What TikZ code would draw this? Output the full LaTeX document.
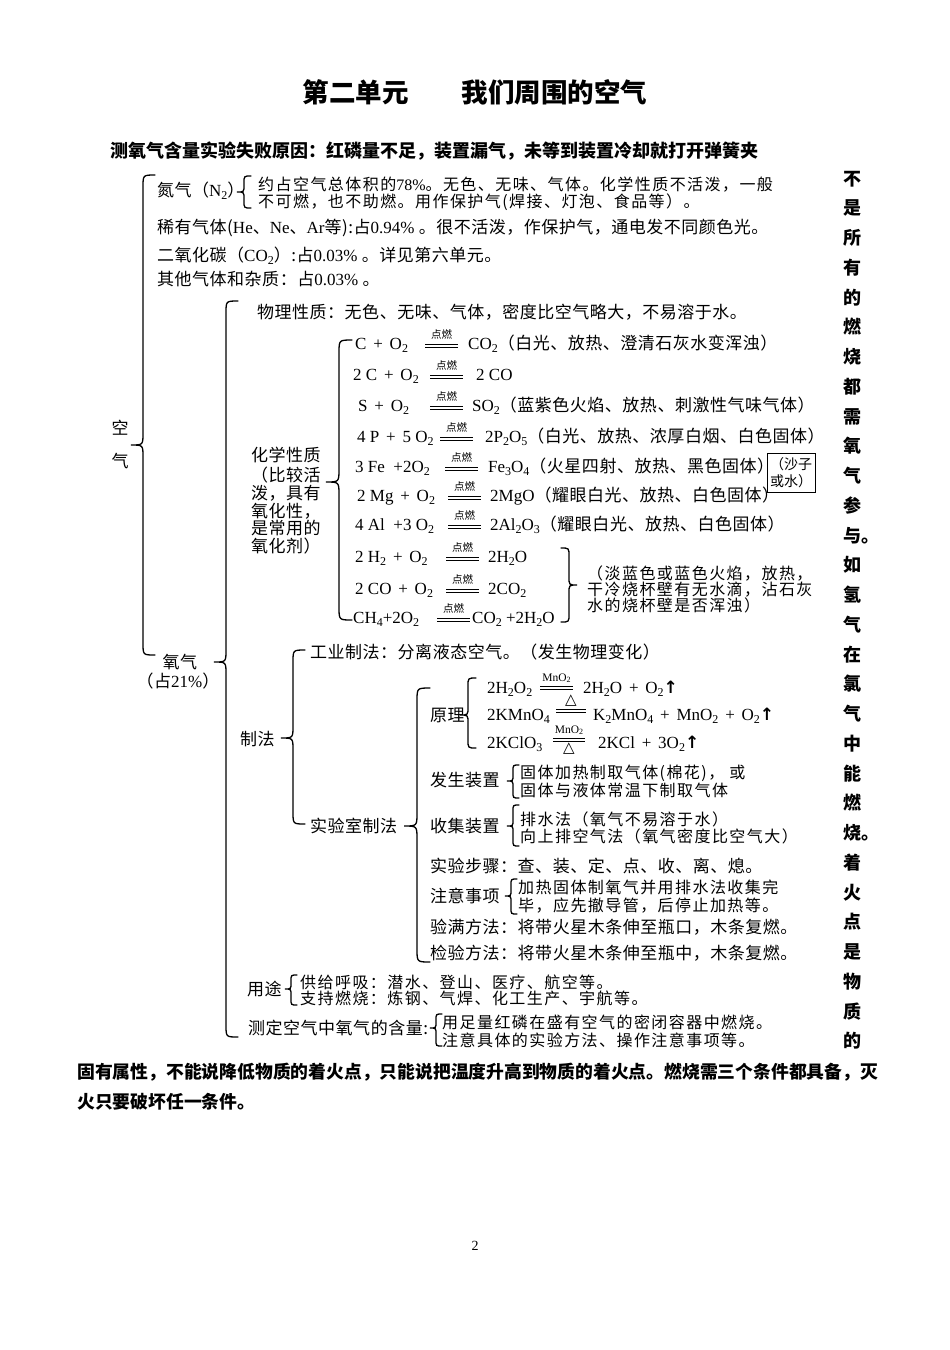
\documentclass[tikz,border=0pt]{standalone}
\usepackage{fontspec}
\setmainfont{Noto Sans CJK SC}
\newfontfamily\zh{Noto Sans CJK SC}[LetterSpace=3]
\newfontfamily\chem{Liberation Serif}
\newfontfamily\symf{DejaVu Sans}
\usetikzlibrary{positioning}

% subscript, spaced plus, gas arrow and heating sign
\newcommand\sbs[1]{\raisebox{-0.35ex}{\fontsize{12}{12}\selectfont #1}}
\newcommand\sbsm[1]{\raisebox{-0.3ex}{\fontsize{8}{8}\selectfont #1}}
\newcommand\ps{\hspace{0.4em}+\hspace{0.4em}}
\newcommand\gas{{\symf\bfseries ↑}}
\newcommand\heat{{\symf\fontsize{15}{15}\selectfont △}}

\tikzset{
  txt/.style={anchor=west, inner sep=0pt, text height=15pt, text depth=2pt,
    font=\zh\fontsize{17}{20}\selectfont},
  tight/.style={txt, font=\zh\fontsize{16}{18}\selectfont\addfontfeatures{LetterSpace=9}},
  mid/.style={txt, anchor=center},
  hd/.style={anchor=west, inner sep=0pt, text height=16pt, text depth=2pt,
    font=\fontsize{18}{22}\selectfont\bfseries},
  cnd/.style={anchor=south, inner sep=0pt, font=\fontsize{10.5}{11}\selectfont},
  mno/.style={cnd, font=\chem\fontsize{11.5}{12}\selectfont},
  brc/.style={line width=1.3pt, line cap=round},
  eqline/.style={line width=0.8pt},
}

% left brace: [depth] x of stem, top, tip, bottom
\newcommand\brc[5][7]{%
  \draw[brc] (#2+#1,#3) .. controls (#2,#3) .. (#2,#3+#1) -- (#2,#4-#1)
    .. controls (#2,#4) .. (#2-#1,#4) .. controls (#2,#4) .. (#2,#4+#1)
    -- (#2,#5-#1) .. controls (#2,#5) .. (#2+#1,#5);}
% right brace
\newcommand\rbrc[5][7]{%
  \draw[brc] (#2-#1,#3) .. controls (#2,#3) .. (#2,#3+#1) -- (#2,#4-#1)
    .. controls (#2,#4) .. (#2+#1,#4) .. controls (#2,#4) .. (#2,#4+#1)
    -- (#2,#5-#1) .. controls (#2,#5) .. (#2-#1,#5);}

% reaction: name, y, x left, left side, x sign, condition, x right, right side
\newcommand\rxn[8]{%
  \node[txt] (#1l) at (#3,#2) {\chem #4};
  \draw[eqline] (#5,#2+1.5) -- ++(33,0) (#5,#2+4.5) -- ++(33,0);
  \node[cnd] (#1c) at (#5+16.5,#2-3) {#6};
  \node[txt] (#1r) at (#7,#2) {#8};}

\begin{document}
\begin{tikzpicture}[x=1pt,y=-1pt]
  \useasboundingbox (0,0) rectangle (950,1350);
  \fill[white] (0,0) rectangle (950,1350);

  % Title and headline
  \node[inner sep=0pt, font=\fontsize{26.5}{30}\selectfont\bfseries] (title) at (475,92) {第二单元　　我们周围的空气};
  \node[hd] (fail) at (110,150) {测氧气含量实验失败原因：红磷量不足，装置漏气，未等到装置冷却就打开弹簧夹};

  % Air and its components
  \node[mid] (kong) at (120,428) {空};
  \node[mid] (qi) at (120,461) {气};
  \brc[12]{143}{175}{445}{655}

  \node[txt] (n2) at (157,190) {氮气（{\chem N\sbs{2}}）};
  \brc[7]{244}{176}{192}{208}
  \node[tight] (n2a) at (258,184) {约占空气总体积的{\chem 78\%}。无色、无味、气体。化学性质不活泼，一般};
  \node[tight] (n2b) at (258,201) {不可燃，也不助燃。用作保护气(焊接、灯泡、食品等）。};
  \node[txt] (rare) at (157,227) {稀有气体({\chem He}、{\chem Ne}、{\chem Ar}等):占{\chem 0.94\%} 。很不活泼，作保护气，通电发不同颜色光。};
  \node[txt] (co2) at (157,255) {二氧化碳（{\chem CO\sbs{2}}）:占{\chem 0.03\%} 。详见第六单元。};
  \node[txt] (other) at (157,279) {其他气体和杂质：占{\chem 0.03\%} 。};

  % Oxygen
  \node[mid] (o2) at (180,662) {氧气};
  \node[mid] (o2p) at (178,681) {（占{\chem 21\%}）};
  \brc[12]{226}{301}{662}{1037}

  % Physical and chemical properties
  \node[txt] (phys) at (257,312) {物理性质：无色、无味、气体，密度比空气略大，不易溶于水。};
  \node[txt] (chm1) at (251,455) {化学性质};
  \node[txt] (chm2) at (251,475) {（比较活};
  \node[txt] (chm3) at (251,493) {泼，具有};
  \node[txt] (chm4) at (251,511) {氧化性，};
  \node[txt] (chm5) at (251,528) {是常用的};
  \node[txt] (chm6) at (251,546) {氧化剂）};
  \brc[13]{339}{340}{482}{620}

  \rxn{e1}{343}{355}{C\ps O\sbs{2}}{425}{点燃}{468}{{\chem CO\sbs{2}}（白光、放热、澄清石灰水变浑浊）}
  \rxn{e2}{374}{353}{2 C\ps O\sbs{2}}{430}{点燃}{476}{{\chem 2 CO}}
  \rxn{e3}{405}{358}{S\ps O\sbs{2}}{430}{点燃}{472}{{\chem SO\sbs{2}}（蓝紫色火焰、放热、刺激性气味气体）}
  \rxn{e4}{436}{357}{4 P\ps 5 O\sbs{2}}{440}{点燃}{485}{{\chem 2P\sbs{2}O\sbs{5}}（白光、放热、浓厚白烟、白色固体）}
  \rxn{e5}{466}{355}{3 Fe\ \ +2O\sbs{2}}{445}{点燃}{488}{{\chem Fe\sbs{3}O\sbs{4}}（火星四射、放热、黑色固体）}
  \rxn{e6}{495}{357}{2 Mg\ps O\sbs{2}}{448}{点燃}{490}{{\chem 2MgO}（耀眼白光、放热、白色固体）}
  \rxn{e7}{524}{355}{4 Al\ \ +3 O\sbs{2}}{448}{点燃}{490}{{\chem 2Al\sbs{2}O\sbs{3}}（耀眼白光、放热、白色固体）}
  \rxn{e8}{556}{355}{2 H\sbs{2}\ps O\sbs{2}}{446}{点燃}{488}{{\chem 2H\sbs{2}O}}
  \rxn{e9}{588}{355}{2 CO\ps O\sbs{2}}{446}{点燃}{488}{{\chem 2CO\sbs{2}}}
  \rxn{e10}{617}{353}{CH\sbs{4}+2O\sbs{2}}{437}{点燃}{472}{{\chem CO\sbs{2}\ +2H\sbs{2}O}}

  \node[draw, line width=0.9pt, inner sep=0pt, minimum width=48pt, minimum height=39pt,
    align=center, font=\fontsize{14}{16.5}\selectfont] (sand) at (791,472.5) {（沙子\\或水）};

  \rbrc[8]{569}{548}{585}{622}
  \node[tight] (flm1) at (587,573) {（淡蓝色或蓝色火焰，放热，};
  \node[tight] (flm2) at (587,589) {干冷烧杯壁有无水滴，沾石灰};
  \node[tight] (flm3) at (587,605) {水的烧杯壁是否浑浊）};

  % Preparation
  \node[txt] (prep) at (240,739) {制法};
  \brc[12]{293}{650}{738}{824}
  \node[txt] (ind) at (310,652) {工业制法：分离液态空气。（发生物理变化）};
  \node[txt] (lab) at (310,826) {实验室制法};
  \brc[13]{417}{688}{826}{962}

  \node[txt] (prin) at (430,715) {原理};
  \brc[8]{468}{678}{715}{748}
  \node[txt] (p1l) at (487,687) {\chem 2H\sbs{2}O\sbs{2}};
  \draw[eqline] (540,686) -- ++(33,0) (540,689) -- ++(33,0);
  \node[mno] (p1c) at (556.5,683) {MnO\sbsm{2}};
  \node[txt] (p1r) at (583,687) {\chem 2H\sbs{2}O\ps O\sbs{2}\gas};
  \node[txt] (p2l) at (487,714) {\chem 2KMnO\sbs{4}};
  \draw[eqline] (556,709) -- ++(30,0) (556,712) -- ++(30,0);
  \node[cnd] (p2c) at (571,707) {\heat};
  \node[txt] (p2r) at (593,714) {\chem K\sbs{2}MnO\sbs{4}\ps MnO\sbs{2}\ps O\sbs{2}\gas};
  \node[txt] (p3l) at (487,742) {\chem 2KClO\sbs{3}};
  \draw[eqline] (553,738) -- ++(32,0) (553,741) -- ++(32,0);
  \node[mno] (p3c) at (569,735) {MnO\sbsm{2}};
  \node[cnd, anchor=north] (p3h) at (569,743) {\heat};
  \node[txt] (p3r) at (598,742) {\chem 2KCl\ps 3O\sbs{2}\gas};

  \node[txt] (gen) at (430,780) {发生装置};
  \brc[6]{513}{765}{781}{798}
  \node[tight] (gen1) at (520,772) {固体加热制取气体(棉花)， 或};
  \node[tight] (gen2) at (520,790) {固体与液体常温下制取气体};
  \node[txt] (col) at (430,826) {收集装置};
  \brc[6]{513}{805}{826}{846}
  \node[tight] (col1) at (520,819) {排水法（氧气不易溶于水）};
  \node[tight] (col2) at (520,836) {向上排空气法（氧气密度比空气大）};
  \node[txt] (steps) at (430,866) {实验步骤：查、装、定、点、收、离、熄。};
  \node[txt] (note) at (430,896) {注意事项};
  \brc[6]{511}{879}{896}{914}
  \node[tight] (note1) at (518,887) {加热固体制氧气并用排水法收集完};
  \node[tight] (note2) at (518,905) {毕，应先撤导管，后停止加热等。};
  \node[txt] (full) at (430,927) {验满方法：将带火星木条伸至瓶口，木条复燃。};
  \node[txt] (test) at (430,953) {检验方法：将带火星木条伸至瓶中，木条复燃。};

  % Uses and measuring
  \node[txt] (use) at (247,989) {用途};
  \brc[6]{291}{975}{989}{1005}
  \node[tight] (use1) at (300,982) {供给呼吸：潜水、登山、医疗、航空等。};
  \node[tight] (use2) at (300,998) {支持燃烧：炼钢、气焊、化工生产、宇航等。};
  \node[txt] (meas) at (248,1028) {测定空气中氧气的含量:};
  \brc[6]{436}{1014}{1028}{1046}
  \node[tight] (meas1) at (442,1022) {用足量红磷在盛有空气的密闭容器中燃烧。};
  \node[tight] (meas2) at (442,1040) {注意具体的实验方法、操作注意事项等。};

  % Side column and closing paragraph
  \foreach \ch [count=\k from 0] in {不,是,所,有,的,燃,烧,都,需,氧,气,参,与。,如,氢,气,在,氯,气,中,能,燃,烧。,着,火,点,是,物,质,的}
    \node[hd] (side\k) at (843,{178+29.75*\k}) {\ch};
  \node[hd, font=\fontsize{17.8}{22}\selectfont\bfseries] (end1) at (77,1071) {固有属性，不能说降低物质的着火点，只能说把温度升高到物质的着火点。燃烧需三个条件都具备，灭};
  \node[hd, font=\fontsize{17.8}{22}\selectfont\bfseries] (end2) at (77,1101) {火只要破坏任一条件。};

  \node[inner sep=0pt, font=\chem\fontsize{14}{16}\selectfont] (pg) at (475,1246) {2};
\end{tikzpicture}
\end{document}
